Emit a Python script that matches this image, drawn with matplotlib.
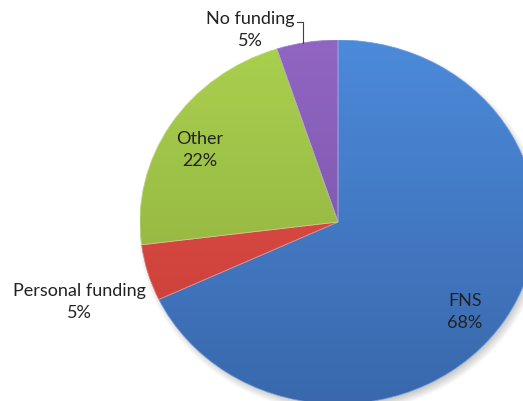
import numpy as np
import matplotlib
matplotlib.use("Agg")
import matplotlib.pyplot as plt
from matplotlib.colors import LinearSegmentedColormap
from matplotlib.patches import Wedge
from matplotlib.lines import Line2D

# ---- data ----
categories = ["FNS", "Personal funding", "Other", "No funding"]
values = [68, 5, 22, 5]
pct_labels = ["68%", "5%", "22%", "5%"]

# ---- style ----
top_colors = ["#4C8ADA", "#E5514A", "#AAD04F", "#9065C3"]
bot_colors = ["#3968AC", "#C63D37", "#8AA93B", "#7451A1"]
edge_colors = ["#86B0E6", "#EE8A84", "#C6E18B", "#B59AD8"]
text_color = "#222222"

W, H = 523, 401
fig = plt.figure(figsize=(W / 100, H / 100), dpi=100)
fig.patch.set_facecolor("white")

# pie occupies an ellipse centred at (338,222) px, rx=198, ry=182
cx, cy, rx, ry = 338, 222, 198, 182
ax = fig.add_axes([(cx - rx) / W, (H - (cy + ry)) / H, 2 * rx / W, 2 * ry / H])
ax.set_xlim(-1, 1)
ax.set_ylim(-1, 1)
ax.axis("off")

# soft shadow (bottom-right)
n = 400
xs = np.linspace(-1.1, 1.1, n)
X, Y = np.meshgrid(xs, xs)
R = np.hypot(X - 0.015, Y + 0.025)
alpha = np.clip((1.0 + 0.03 - R) / 0.06, 0, 1) * 0.35
shadow = np.zeros((n, n, 4))
shadow[..., :3] = 0.3
shadow[..., 3] = alpha
ax.imshow(shadow, extent=[-1.1, 1.1, -1.1, 1.1], origin="lower",
          aspect="auto", zorder=0, interpolation="bilinear")

wedges, _ = ax.pie(values, startangle=90, counterclock=False,
                   radius=1, center=(0, 0), colors=bot_colors,
                   wedgeprops=dict(linewidth=0), frame=False)
ax.set_aspect("auto")

grad = np.linspace(0, 1, 256).reshape(-1, 1)
for w, c_top, c_bot, c_edge in zip(wedges, top_colors, bot_colors, edge_colors):
    w.set_zorder(1)
    cmap = LinearSegmentedColormap.from_list("g", [c_bot, c_top])
    im = ax.imshow(grad, extent=[-1, 1, -1, 1], origin="lower", cmap=cmap,
                   aspect="auto", zorder=2, interpolation="bilinear")
    im.set_clip_path(w)
    outline = Wedge(w.center, w.r, w.theta1, w.theta2, facecolor="none",
                    edgecolor=c_edge, linewidth=0.6, alpha=0.8, zorder=3)
    ax.add_patch(outline)

ax.set_xlim(-1, 1)
ax.set_ylim(-1, 1)
ax.set_aspect("auto")

# ---- labels (pixel positions of text-block centres) ----
label_pos = {
    "FNS": (465, 312),
    "Personal funding": (79, 302),
    "Other": (200, 150),
    "No funding": (250, 30),
}
for cat, pct in zip(categories, pct_labels):
    x, y = label_pos[cat]
    fig.text(x / W, 1 - y / H, f"{cat}\n{pct}", ha="center", va="center",
             fontsize=13, family=["Lato", "DejaVu Sans"], color=text_color,
             linespacing=1.5, zorder=10)

# leader line for "No funding"
lx = [297 / W, 303 / W, 303 / W]
ly = [1 - 22 / H, 1 - 22 / H, 1 - 43 / H]
fig.add_artist(Line2D(lx, ly, color="#404040", linewidth=0.8, zorder=10))

fig.savefig("out.png", dpi=100, facecolor="white")
